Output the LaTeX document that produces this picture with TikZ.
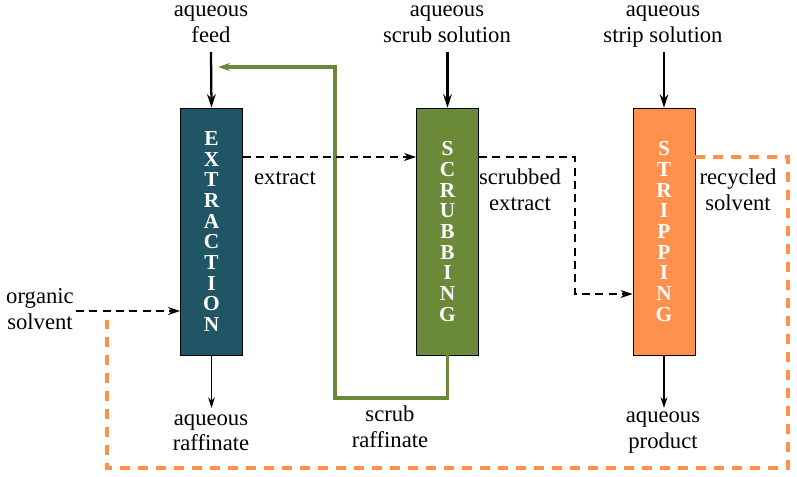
\documentclass[tikz,border=0pt]{standalone}
\usepackage{fontspec}
\setmainfont{Liberation Serif}
\usetikzlibrary{arrows.meta,positioning}

\definecolor{extractteal}{HTML}{1F5564}
\definecolor{scrubgreen}{HTML}{6A8A3A}
\definecolor{striporange}{HTML}{FF914D}

\begin{document}
\begin{tikzpicture}[
    x=0.75pt, y=-0.75pt,
    stage/.style={draw=black, line width=0.6pt, minimum width=46.5pt, minimum height=185.25pt,
      inner sep=0pt, text=white, align=center, font=\rmfamily\fontsize{16}{15.5}\selectfont\bfseries},
    lab/.style={align=center, inner sep=0pt, anchor=base, font=\rmfamily\fontsize{17}{19.5}\selectfont},
    feedin/.style={draw=black, line width=1.7pt, -{Stealth[length=10pt,width=6.5pt]}},
    feedout/.style={draw=black, line width=1.1pt, -{Stealth[length=8pt,width=5pt]}},
    organic/.style={draw=black, line width=1.5pt, dash pattern=on 6pt off 4pt,
      -{Stealth[length=9pt,width=6pt]}},
    recycle/.style={draw=striporange, line width=2.6pt, dash pattern=on 7.5pt off 6pt},
    scrubflow/.style={draw=scrubgreen, line width=2.4pt, -{Stealth[length=9pt,width=6pt]}}
]
\useasboundingbox (0,0) rectangle (797,477);

% stages
\node[stage, fill=extractteal] (extraction) at (211.5,231.5) {E\\X\\T\\R\\A\\C\\T\\I\\O\\N};
\node[stage, fill=scrubgreen]  (scrubbing)  at (447.5,231.5) {S\\C\\R\\U\\B\\B\\I\\N\\G};
\node[stage, fill=striporange] (stripping)  at (664,231.5)   {S\\T\\R\\I\\P\\P\\I\\N\\G};

% labels (placed at the baseline of their last line)
\node[lab] (feed)      at (211,43)  {aqueous\\feed};
\node[lab] (scrubsol)  at (447,43)  {aqueous\\scrub solution};
\node[lab] (stripsol)  at (663,43)  {aqueous\\strip solution};
\node[lab] (raffinate) at (211,451) {aqueous\\raffinate};
\node[lab] (scrubraff) at (390,448) {scrub\\raffinate};
\node[lab] (product)   at (663,449) {aqueous\\product};
\node[lab] (solvent)   at (40,330)  {organic\\solvent};
\node[lab] (extract)   at (285,185) {extract};
\node[lab] (scrubext)  at (520,211) {scrubbed\\extract};
\node[lab] (recycled)  at (738,211) {recycled\\solvent};

% flow levels
\coordinate (topflow) at (0,157);
\coordinate (lowflow) at (0,294);
\coordinate (orgflow) at (0,311);
\coordinate (scrubreturn) at (218,67);

% aqueous streams
\draw[feedin] (211,52) -- (extraction.north);
\draw[feedin] (scrubbing.north |- 0,52) -- (scrubbing.north);
\draw[feedin] (stripping.north |- 0,52) -- (stripping.north);
\draw[feedout] (extraction.south) -- (extraction.south |- 0,408);
\draw[feedout] (stripping.south) -- (stripping.south |- 0,408);
\draw[scrubflow] (scrubbing.south) |- (335,398) |- (scrubreturn);

% organic streams
\draw[organic] (76,311) -- (extraction.west |- orgflow);
\draw[organic] (extraction.east |- topflow) -- (scrubbing.west |- topflow);
\draw[organic] (scrubbing.east |- topflow) -| (575,294) -- (stripping.west |- lowflow);
\draw[recycle] (stripping.east |- topflow) -| (788,468) -| (107,320);

\end{tikzpicture}
\end{document}
